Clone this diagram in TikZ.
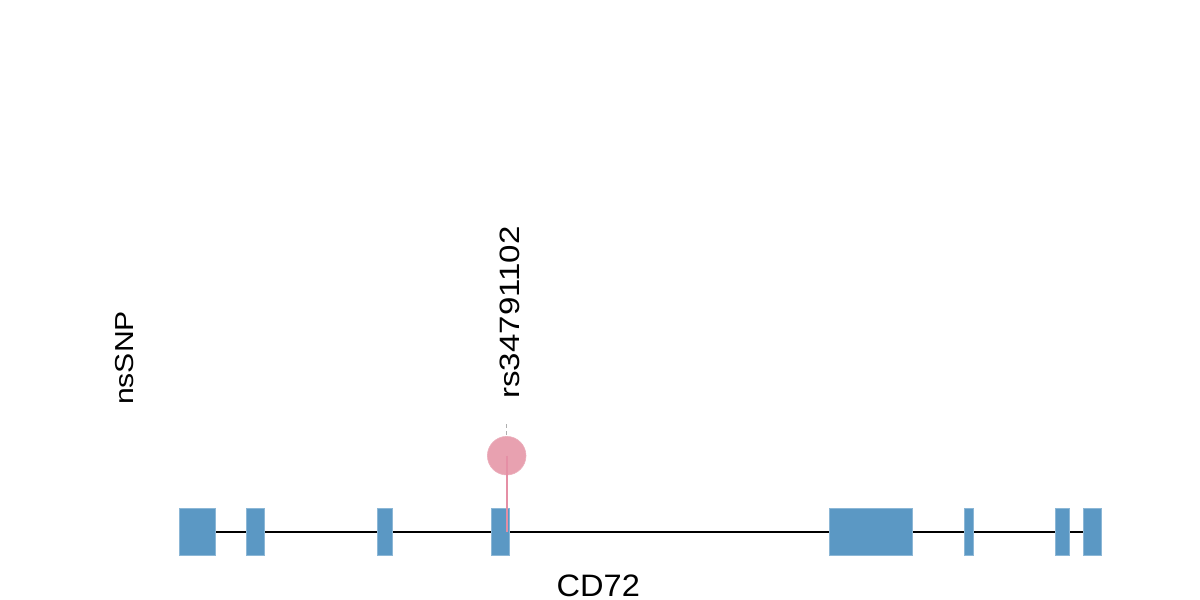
\documentclass[tikz,border=0pt]{standalone}
\usepackage{fontspec}
\setmainfont{Liberation Sans}
\definecolor{exonblue}{RGB}{91,152,196}
\definecolor{snppink}{RGB}{232,161,176}
\definecolor{stempink}{RGB}{229,143,165}
\definecolor{tickgray}{RGB}{175,175,175}
\begin{document}
\begin{tikzpicture}[x=1pt,y=1pt,
  exon/.style={fill=exonblue,draw=exonblue!70!white,line width=0.8pt,inner sep=0pt,outer sep=0pt},
  lbl/.style={inner sep=0pt,text=black}]
\useasboundingbox (0,0) rectangle (1200,600);
% gene backbone
\coordinate (L) at (179,68);
\coordinate (R) at (1101,68);
\draw[line width=2pt,black] (L) -- (R);
% exons
\foreach \a/\b/\n in {179/215.3/e1,246.3/264.7/e2,377.3/392/e3,491.3/509.3/e4,829.3/912.7/e5,964/973.7/e6,1055.3/1069/e7,1083.7/1101/e8}{
  \path[exon] (\a,45) rectangle (\b,91.7);
}
% lollipop
\coordinate (base) at (506.7,68);
\node[circle,fill=snppink,draw=snppink!85!white,line width=0.6pt,minimum size=38.6pt,inner sep=0pt] (snp) at (506.7,144.3) {};
\draw[stempink,line width=2pt] (snp.center) -- (base);
\coordinate (t1) at (506.7,165);
\coordinate (t2) at (506.7,177.3);
\draw[tickgray,line width=1.5pt,dash pattern=on 4pt off 3pt] (t1) -- (t2);
% labels
\node[lbl,rotate=90] (rs) at (510,287.5) {\fontsize{28}{30}\selectfont\scalebox{1.18}[1]{rs34791102}};
\node[lbl,rotate=90] (ns) at (124.5,242) {\fontsize{26}{28}\selectfont\scalebox{1.16}[1]{nsSNP}};
\node[lbl,anchor=base] (gene) at (598.3,4) {\fontsize{31}{33}\selectfont\scalebox{1.05}[1]{CD72}};
\end{tikzpicture}
\end{document}
